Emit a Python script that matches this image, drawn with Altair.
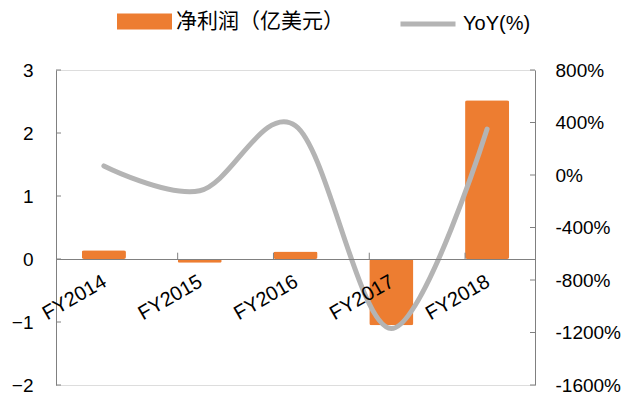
import altair as alt
import pandas as pd

years = ["FY2014", "FY2015", "FY2016", "FY2017", "FY2018"]
profit = [0.14, -0.06, 0.12, -1.05, 2.52]          # 净利润（亿美元）
yoy = [69, -120, 375, -1170, 350]                   # YoY(%)
left_ticks = [-2, -1, 0, 1, 2, 3]
right_ticks = [-1600, -1200, -800, -400, 0, 400, 800]

bar_name = "净利润（亿美元）"
line_name = "YoY(%)"

df = pd.DataFrame({"year": years, "profit": profit, "yoy": yoy,
                   "s1": [bar_name] * len(years), "s2": [line_name] * len(years)})
df_lt = pd.DataFrame({"v": left_ticks})
df_rt = pd.DataFrame({"v": right_ticks})
df_xt = pd.DataFrame({"year": years[1:]})

FONT = "Liberation Sans, Arial, Noto Sans CJK SC"
AXIS_COLOR = "#808080"

x_scale = alt.Scale(domain=years, paddingInner=0.54, paddingOuter=0.27)
x_axis = alt.Axis(title=None, orient="bottom", offset=-126, domainColor=AXIS_COLOR,
                  domainWidth=1, ticks=False, labelAngle=-30, labelAlign="right",
                  labelBaseline="top", labelPadding=12, labelOffset=-4, labelFontSize=20,
                  labelColor="black", labelFont=FONT, zindex=1, grid=False)
yl_scale = alt.Scale(domain=[-2, 3], nice=False, zero=False)
yl_axis = alt.Axis(title=None, orient="left", values=left_ticks, ticks=False, tickSize=0,
                   domainColor=AXIS_COLOR, labelPadding=23, labelFontSize=19,
                   labelColor="black", labelFont=FONT, grid=False)
yr_scale = alt.Scale(domain=[-1600, 800], nice=False, zero=False)
yr_axis = alt.Axis(title=None, orient="right", values=right_ticks, ticks=False, tickSize=0,
                   domainColor=AXIS_COLOR, labelPadding=20, labelFontSize=19,
                   labelColor="black", labelFont=FONT, labelExpr="datum.value + '%'",
                   grid=False)

bars = alt.Chart(df).mark_bar(cornerRadius=2).encode(
    x=alt.X("year:N", scale=x_scale, axis=x_axis, sort=years),
    y=alt.Y("profit:Q", scale=yl_scale, axis=yl_axis),
    fill=alt.Fill("s1:N", scale=alt.Scale(domain=[bar_name], range=["#ED7D31"]),
                  legend=alt.Legend(title=None, orient="none", legendX=61, legendY=-76,
                                    symbolType="M-1,-0.29H1V0.29H-1Z", symbolSize=3025,
                                    symbolStrokeWidth=0, labelFontSize=21, labelFont=FONT,
                                    labelColor="black", labelOffset=4, labelLimit=400,
                                    padding=0)),
)

lt = alt.Chart(df_lt).mark_rule(color=AXIS_COLOR, strokeWidth=1).encode(
    y=alt.Y("v:Q", scale=yl_scale, axis=yl_axis),
    x=alt.value(0), x2=alt.value(5),
)

xt = alt.Chart(df_xt).mark_rule(color=AXIS_COLOR, strokeWidth=1).encode(
    x=alt.X("year:N", scale=x_scale, axis=x_axis, sort=years, bandPosition=0),
    y=alt.datum(0, scale=yl_scale, axis=yl_axis), y2=alt.datum(0.1),
)

line = alt.Chart(df).mark_line(interpolate="cardinal", strokeWidth=5, strokeCap="round").encode(
    x=alt.X("year:N", scale=x_scale, axis=x_axis, sort=years),
    y=alt.Y("yoy:Q", scale=yr_scale, axis=yr_axis),
    stroke=alt.Stroke("s2:N", scale=alt.Scale(domain=[line_name], range=["#B4B4B4"]),
                      legend=alt.Legend(title=None, orient="none", legendX=342, legendY=-76,
                                        symbolType="stroke", symbolSize=3025,
                                        symbolStrokeWidth=5, labelFontSize=20, labelFont=FONT,
                                        labelColor="black", labelOffset=5, labelLimit=400,
                                        padding=0)),
)

rt = alt.Chart(df_rt).mark_rule(color=AXIS_COLOR, strokeWidth=1).encode(
    y=alt.Y("v:Q", scale=yr_scale, axis=yr_axis),
    x=alt.value(474), x2=alt.value(479),
)

left = alt.layer(bars, lt, xt)
right = alt.layer(line, rt)

chart = alt.layer(left, right).resolve_scale(
    y="independent", fill="independent", stroke="independent"
).properties(
    width=479, height=315,
    autosize=alt.AutoSizeParams(type="none"),
    padding={"left": 56, "top": 70, "right": 109, "bottom": 9},
).configure_view(stroke=None).configure(background="white")

chart.save("out.html", embed_options={"renderer": "svg", "actions": False})
